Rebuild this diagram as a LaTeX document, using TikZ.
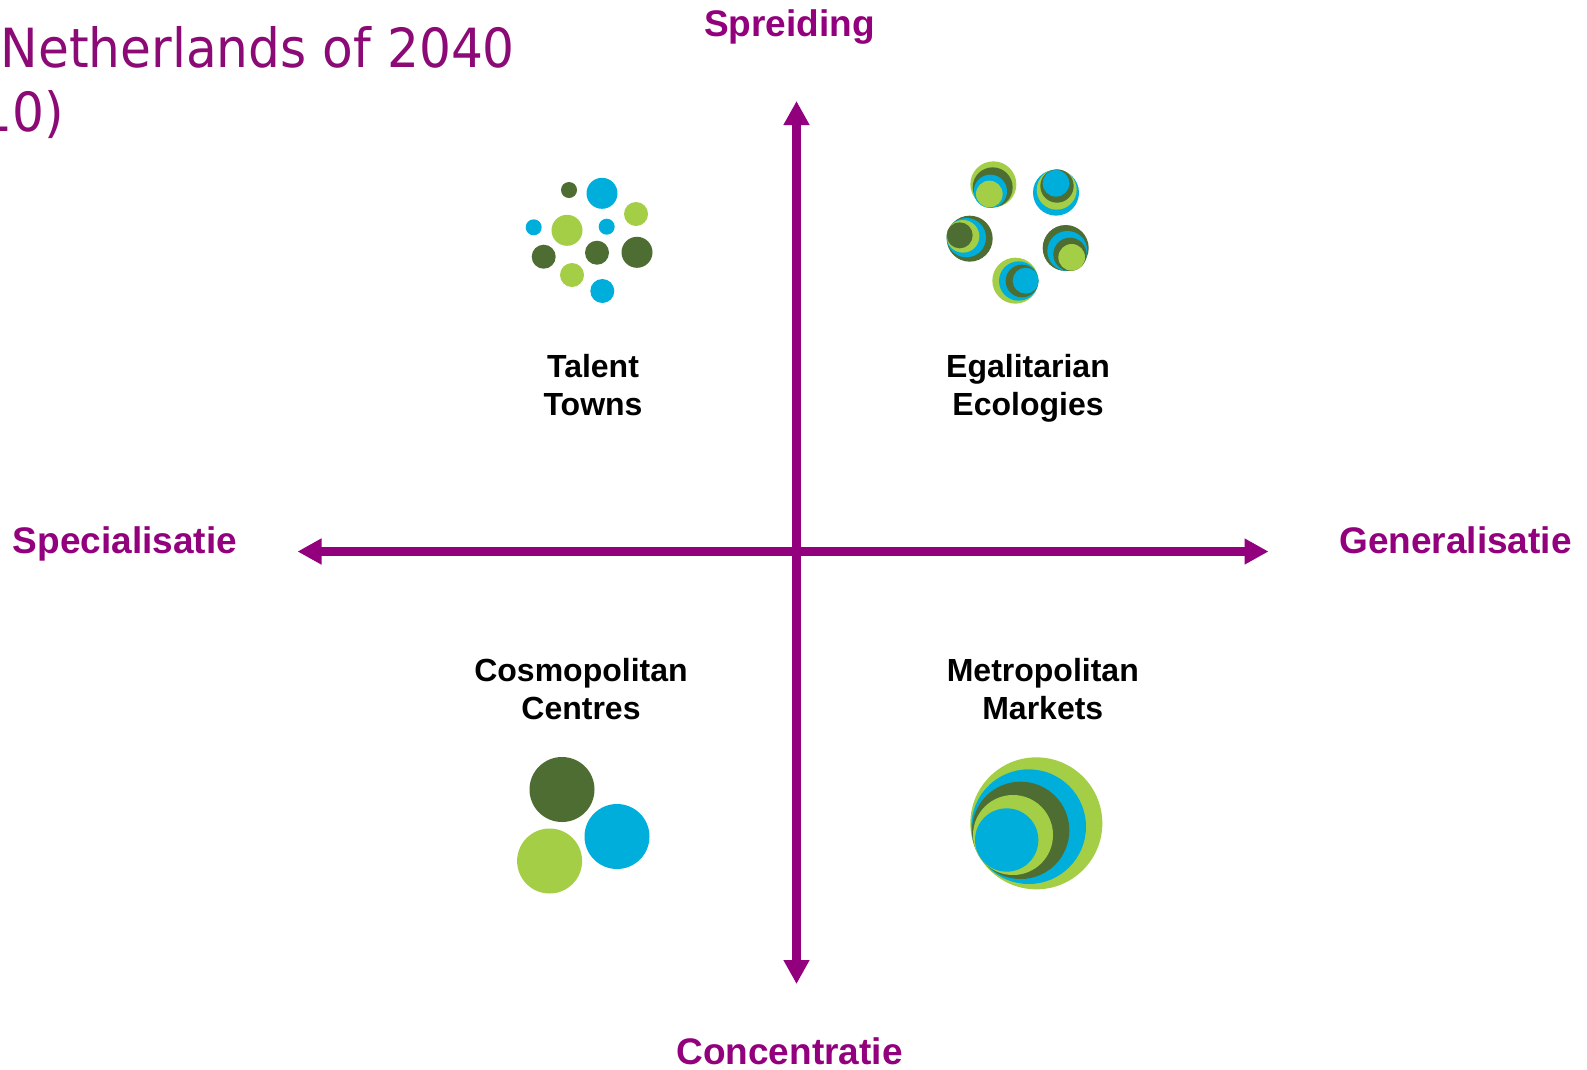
\documentclass[tikz,border=0pt]{standalone}
\usepackage{fontspec}
\setmainfont{Liberation Sans}
\newfontfamily\titlefont[FakeStretch=0.93]{DejaVu Sans}
\usetikzlibrary{arrows.meta}
\definecolor{axispurple}{HTML}{93007E}
\definecolor{titlepurple}{HTML}{8C0A76}
\definecolor{dotblue}{HTML}{00AEDB}
\definecolor{dotlight}{HTML}{A4CE45}
\definecolor{dotdark}{HTML}{4D6D32}
\tikzset{
  axisline/.style={draw=axispurple,line width=8.6pt,{Triangle[length=24pt,width=24.5pt]}-{Triangle[length=24pt,width=24.5pt]}},
  axislabel/.style={text=axispurple,font=\fontsize{37}{40}\selectfont\bfseries,inner sep=0pt,anchor=base},
  quadlabel/.style={text=black,font=\fontsize{32}{38}\selectfont\bfseries,align=center,inner sep=0pt},
  titletext/.style={text=titlepurple,font=\titlefont\fontsize{54}{60}\selectfont,inner sep=0pt}
}
\newcommand{\dotc}[4]{\fill[#1] (#2,#3) circle[radius=#4];}
\newcommand{\zc}[6]{\fill[#1] ({#2+#4/3},{#3+#5/3}) circle[radius={#6/3}];}
\begin{document}
\begin{tikzpicture}[x=1pt,y=-1pt]
\useasboundingbox (0,0) rectangle (1587,1069);
\fill[white] (0,0) rectangle (1587,1069);

% title, cropped by the page edge
\node[titletext,anchor=base west] (title1) at (0.5,67) {Netherlands of 2040};
\node[titletext,anchor=base east] (title2) at (64.5,131) {10)};

% axes
\coordinate (top) at (796.5,101);
\coordinate (bottom) at (796.5,984);
\coordinate (left) at (297.5,551.5);
\coordinate (right) at (1268.5,551.5);
\draw[axisline] (bottom) -- (top);
\draw[axisline] (left) -- (right);

% axis labels
\node[axislabel] (spreiding) at (789.5,36.5) {Spreiding};
\node[axislabel] (concentratie) at (789.5,1064.5) {Concentratie};
\node[axislabel] (special) at (125,553) {Specialisatie};
\node[axislabel] (general) at (1455.5,553) {Generalisatie};

% quadrant labels
\node[quadlabel] (talent) at (593,385) {Talent\\Towns};
\node[quadlabel] (egal) at (1028,388) {Egalitarian\\Ecologies};
\node[quadlabel] (cosmo) at (581,689) {Cosmopolitan\\Centres};
\node[quadlabel] (metro) at (1042.8,689) {Metropolitan\\Markets};

% Talent Towns
\dotc{dotdark}{569}{190}{8}
\dotc{dotblue}{602}{193.3}{15.5}
\dotc{dotlight}{636}{214}{12}
\dotc{dotblue}{533.7}{227.3}{8}
\dotc{dotlight}{567}{230.3}{15.5}
\dotc{dotblue}{606.7}{226.7}{8}
\dotc{dotdark}{543.7}{256.7}{12}
\dotc{dotdark}{597}{252.7}{12}
\dotc{dotdark}{637}{252.3}{15.5}
\dotc{dotlight}{572}{275}{12}
\dotc{dotblue}{602.3}{291}{12}

% Egalitarian Ecologies
\zc{dotlight}{930}{150}{190}{103}{69}
\zc{dotdark}{930}{150}{188}{112}{60}
\zc{dotblue}{930}{150}{181}{124}{50}
\zc{dotlight}{930}{150}{178}{132}{40}

\zc{dotblue}{930}{150}{378}{128}{69}
\zc{dotlight}{930}{150}{380}{119}{60}
\zc{dotdark}{930}{150}{381}{108}{50}
\zc{dotblue}{930}{150}{378}{100}{40}

\zc{dotdark}{930}{150}{119}{266}{69}
\zc{dotblue}{930}{150}{109}{263}{59}
\zc{dotlight}{930}{150}{99}{259}{49}
\zc{dotdark}{930}{150}{89}{256}{39}

\zc{dotdark}{930}{150}{407}{294}{69}
\zc{dotblue}{930}{150}{412}{303}{60}
\zc{dotdark}{930}{150}{420}{313}{50}
\zc{dotlight}{930}{150}{425}{322}{40}

\zc{dotlight}{930}{150}{256}{392}{69}
\zc{dotblue}{930}{150}{266}{393}{59}
\zc{dotdark}{930}{150}{276}{393}{49}
\zc{dotblue}{930}{150}{287}{392}{39}

% Cosmopolitan Centres
\dotc{dotdark}{562}{789.5}{32.5}
\dotc{dotblue}{617}{836.5}{32.5}
\dotc{dotlight}{549.6}{861}{32.5}

% Metropolitan Markets
\zc{dotlight}{950}{740}{259}{250}{198}
\zc{dotblue}{950}{740}{236}{260}{172}
\zc{dotdark}{950}{740}{212}{271}{146}
\zc{dotlight}{950}{740}{189}{285}{120}
\zc{dotblue}{950}{740}{170}{300}{95}
\end{tikzpicture}
\end{document}
